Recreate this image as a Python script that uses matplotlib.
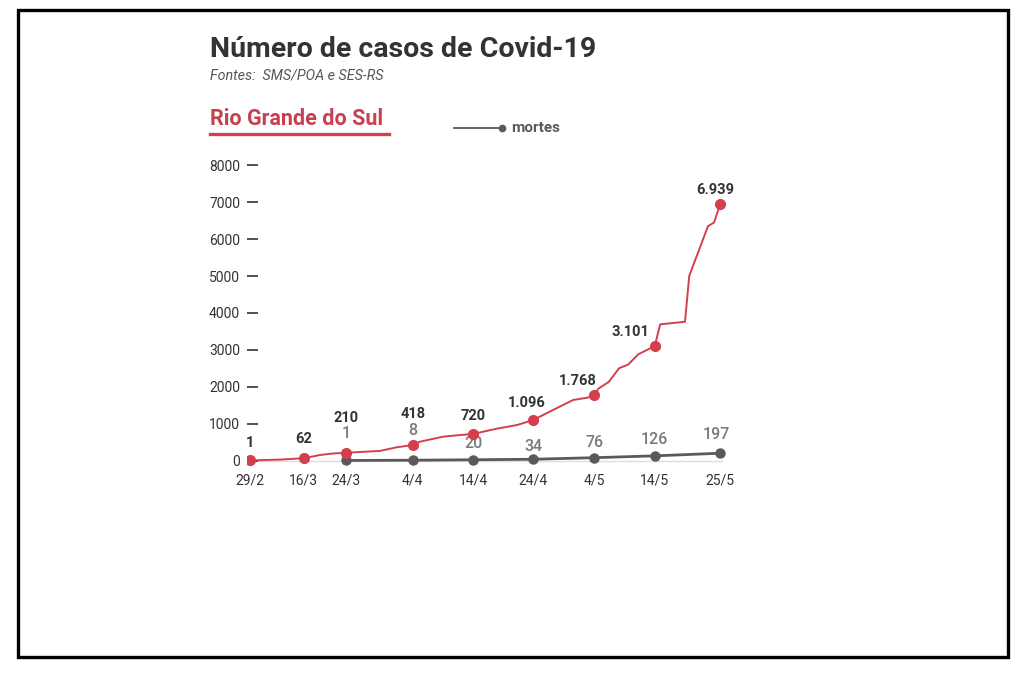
import matplotlib.pyplot as plt
from matplotlib.lines import Line2D
from matplotlib.patches import Rectangle

dates = ['29/2', '16/3', '24/3', '4/4', '14/4', '24/4', '4/5', '14/5', '25/5']
# horizontal place of each date on the graphic (not evenly spaced in time)
date_pos = [0, 8.9, 15.9, 26.9, 36.9, 46.8, 56.9, 66.9, 77.7]

cases = [1, 62, 210, 418, 720, 1096, 1768, 3101, 6939]
case_labels = ['1', '62', '210', '418', '720', '1.096', '1.768', '3.101', '6.939']

deaths_pos = date_pos[2:]
deaths = [1, 8, 20, 34, 76, 126, 197]
death_labels = ['1', '8', '20', '34', '76', '126', '197']

# daily curve of cases between the marked dates
curve_pos = [0, 5, 8.9, 11.6, 13.7, 15.9, 21.5, 24.3, 26.9, 28.1, 31.9, 34.7,
             36.9, 40.7, 44.1, 46.8, 50.1, 53.4, 55.7, 56.9, 57.6, 59.3, 61.0,
             62.5, 64.2, 66.9, 67.8, 71.9, 72.6, 75.7, 76.7, 77.7]
curve_cases = [1, 25, 62, 150, 190, 210, 260, 360, 418, 510, 645, 690,
               720, 860, 960, 1096, 1370, 1640, 1700, 1768, 1950, 2130, 2500,
               2600, 2880, 3101, 3690, 3760, 5000, 6350, 6450, 6939]

yticks = [0, 1000, 2000, 3000, 4000, 5000, 6000, 7000, 8000]

# label offsets (pixels) so the numbers sit like in the original
case_off = [(0, 17), (0, 19), (0, 35), (0, 31), (0, 18), (-6, 17), (-16, 14),
            (-24, 14), (-5, 14)]
death_off = [(0, 27), (0, 30), (0, 16), (0, 13), (0, 15), (0, 16), (-4, 19)]

RED = '#d43f4d'
GREY = '#5a5a5a'
DARK = '#333333'

plt.rcParams['font.family'] = ['Roboto', 'DejaVu Sans']

W, H = 1024, 673
fig = plt.figure(figsize=(W / 100, H / 100), dpi=100)


def fx(px):
    return px / W


def fy(py):
    return 1 - py / H


# axes placed in pixels: x pos -> 250 + 6.05*pos, y value 0 -> 460.5 px
left_px, right_px, top_px, bot_px = 247, 760, 150, 468
ax = fig.add_axes([fx(left_px), fy(bot_px), fx(right_px - left_px),
                   (bot_px - top_px) / H])
ax.set_xlim((left_px - 250) / 6.05, (right_px - 250) / 6.05)
ax.set_ylim((460.5 - bot_px) / 0.0369, (460.5 - top_px) / 0.0369)
ax.patch.set_alpha(0)
for s in ax.spines.values():
    s.set_visible(False)

ax.hlines(0, date_pos[0], date_pos[-1] + 0.5, color='#dddddd', lw=1, zorder=1)

ax.plot(deaths_pos, deaths, color=GREY, lw=2, marker='o', ms=6.5, zorder=2)
ax.plot(curve_pos, curve_cases, color=RED, lw=1.4, zorder=3)
ax.plot(date_pos, cases, ls='none', marker='o', ms=7, color=RED, zorder=4)

for x, v, lab, (dx, dy) in zip(date_pos, cases, case_labels, case_off):
    ax.annotate(lab, (x, v), xytext=(dx, dy), textcoords='offset pixels',
                ha='center', va='center', fontsize=10.5, fontweight='bold',
                color=DARK)
for x, v, lab, (dx, dy) in zip(deaths_pos, deaths, death_labels, death_off):
    ax.annotate(lab, (x, v), xytext=(dx, dy), textcoords='offset pixels',
                ha='center', va='center', fontsize=11.5, fontweight='medium',
                color='#7a7a7a')

ax.set_yticks(yticks)
ax.set_yticklabels([str(t) for t in yticks])
ax.tick_params(axis='y', direction='in', length=8, width=1.2, color=DARK,
               pad=5, labelsize=10, labelcolor=DARK)
ax.set_xticks(date_pos)
ax.set_xticklabels(dates)
ax.tick_params(axis='x', length=0, pad=4, labelsize=10, labelcolor=DARK)

# header texts
fig.text(fx(210), fy(57), 'Número de casos de Covid-19', fontsize=20.5,
         fontweight='bold', color=DARK, va='baseline')
fig.text(fx(210), fy(80), 'Fontes:  SMS/POA e SES-RS', fontsize=10.3,
         style='italic', color='#555555', va='baseline')
fig.text(fx(210), fy(125), 'Rio Grande do Sul', fontsize=15.5,
         fontweight='bold', color='#c8404f', va='baseline')
fig.add_artist(Line2D([fx(210), fx(389)], [fy(134), fy(134)], color=RED,
                      lw=2.4))

# legend for deaths line
fig.add_artist(Line2D([fx(454), fx(501)], [fy(128), fy(128)], color=GREY,
                      lw=1.3))
fig.add_artist(Line2D([fx(502)], [fy(128)], color=GREY, marker='o', ms=4.5))
fig.text(fx(511), fy(128), 'mortes', fontsize=11, fontweight='bold',
         color=GREY, va='center')

# black frame of the picture
fig.add_artist(Rectangle((fx(18), fy(657)), fx(990), (657 - 10) / H,
                         fill=False, edgecolor='black', lw=2.4))

fig.savefig('out.png', dpi=100)
